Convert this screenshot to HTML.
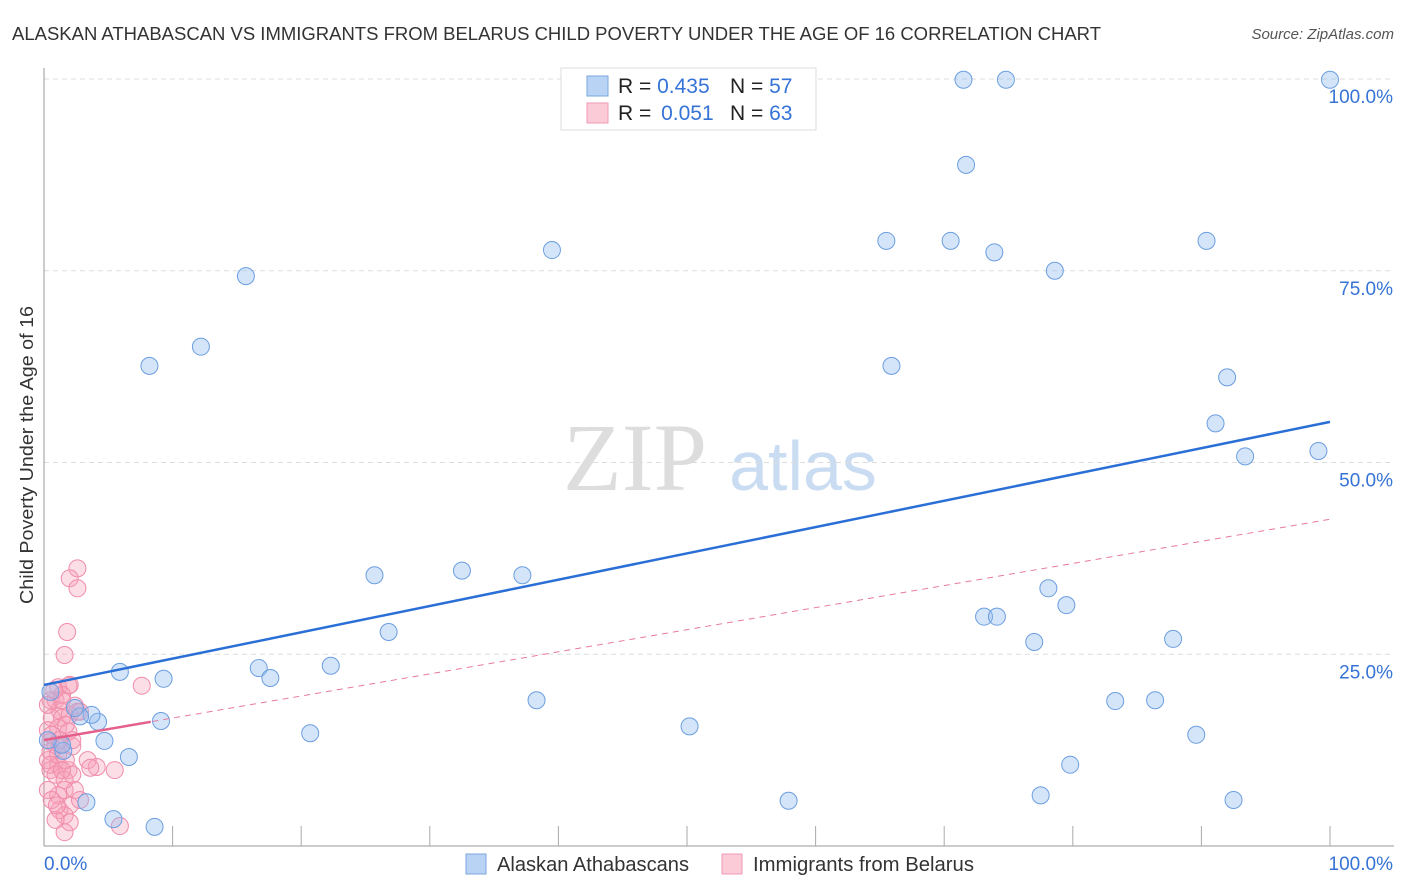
<!DOCTYPE html>
<html><head><meta charset="utf-8"><style>
body{margin:0;background:#fff;font-family:"Liberation Sans",sans-serif;}
</style></head><body>
<svg id="chart" width="1406" height="892" xmlns="http://www.w3.org/2000/svg" style="display:block">
<text x="12" y="40" font-size="18" fill="#333" textLength="1089" lengthAdjust="spacingAndGlyphs">ALASKAN ATHABASCAN VS IMMIGRANTS FROM BELARUS CHILD POVERTY UNDER THE AGE OF 16 CORRELATION CHART</text>
<text x="1394" y="39" font-size="15" fill="#555" text-anchor="end" font-style="italic">Source: ZipAtlas.com</text>
<text transform="translate(33,455) rotate(-90)" font-size="18" fill="#333" text-anchor="middle" textLength="298" lengthAdjust="spacingAndGlyphs">Child Poverty Under the Age of 16</text>
<g>
<text x="635" y="490" font-size="96" fill="#ddd" font-family="Liberation Serif" text-anchor="middle">ZIP</text>
<text x="803" y="490" font-size="70" fill="#c9dcf2" text-anchor="middle">atlas</text>
</g>
<g id="grid"></g><g id="axes"></g><g id="pts"></g><g id="lines"></g>
<g>
<rect x="561" y="68" width="255" height="62" fill="#fff" stroke="#ddd"/>
<rect x="587" y="76" width="21" height="20" fill="#b9d3f4" stroke="#7aa7e0"/>
<rect x="587" y="103" width="21" height="20" fill="#fccbd8" stroke="#ef9ab4"/>
<text x="618" y="93" font-size="21" fill="#222">R = <tspan fill="#3673d6">0.435</tspan></text>
<text x="730" y="93" font-size="21" fill="#222">N = <tspan fill="#3673d6">57</tspan></text>
<text x="618" y="120" font-size="21" fill="#222">R = <tspan fill="#3673d6" dx="4">0.051</tspan></text>
<text x="730" y="120" font-size="21" fill="#222">N = <tspan fill="#3673d6">63</tspan></text>
</g>
<g>
<rect x="466" y="854" width="20" height="20" fill="#b9d3f4" stroke="#7aa7e0"/>
<text x="497" y="871" font-size="20" fill="#333" textLength="192" lengthAdjust="spacingAndGlyphs">Alaskan Athabascans</text>
<rect x="722" y="854" width="20" height="20" fill="#fccbd8" stroke="#ef9ab4"/>
<text x="753" y="871" font-size="20" fill="#333" textLength="221" lengthAdjust="spacingAndGlyphs">Immigrants from Belarus</text>
</g>
</svg>
<script>
const blueX=[71.5,74.8,100,71.7,65.5,70.5,73.9,90.4,78.6,39.5,15.7,12.2,8.2,65.9,92.0,91.1,93.4,99.1,25.7,32.5,37.2,78.1,79.5,73.1,74.1,26.8,77.0,87.8,5.9,16.7,22.3,9.3,17.6,38.3,83.3,86.4,50.2,20.7,89.6,9.1,4.2,3.7,2.8,2.4,4.7,1.5,1.4,6.6,79.8,77.5,57.9,92.5,3.3,5.4,8.6,0.5,0.3];
const blueY=[99.9,99.9,99.9,88.8,78.9,78.9,77.4,78.9,75.0,77.7,74.3,65.1,62.6,62.6,61.1,55.1,50.8,51.5,35.3,35.9,35.3,33.6,31.4,29.9,29.9,27.9,26.6,27.0,22.7,23.2,23.5,21.8,21.9,19.0,18.9,19.0,15.6,14.7,14.5,16.3,16.2,17.1,16.9,18.0,13.7,12.4,13.2,11.6,10.6,6.6,5.9,6.0,5.7,3.5,2.5,20.1,13.8];
const pinkX=[2.6,2.0,2.6,1.8,1.6,7.6,1.1,1.9,2.0,0.5,0.9,1.2,0.6,1.4,2.0,0.3,1.1,1.9,0.5,1.2,0.9,2.2,0.3,1.1,0.5,1.9,3.4,5.5,4.1,3.6,1.6,2.4,1.1,2.0,2.8,1.2,1.6,2.0,5.9,1.6,0.5,0.6,0.3,1.4,2.4,1.4,0.9,1.6,0.3,2.2,1.1,1.7,2.2,0.6,0.9,1.2,1.7,2.6,0.5,0.8,1.4,2.8,1.0];
const pinkY=[36.2,34.9,33.6,27.9,24.9,20.9,20.7,20.9,21.0,19.0,19.0,17.7,16.7,16.7,17.1,15.1,15.4,14.9,13.6,13.2,13.2,13.0,11.2,10.6,9.9,9.9,11.2,9.9,10.3,10.2,7.3,7.3,6.6,5.3,6.0,4.7,4.0,3.1,2.6,1.8,12.3,14.5,18.4,19.7,18.3,19.0,9.3,8.6,7.3,13.8,11.9,11.2,9.3,6.0,3.4,13.8,15.8,17.5,10.6,20.3,9.9,17.5,5.3];
const xTicks=[0,10,20,30,40,50,60,70,80,90,100];
const yTicks=[25,50,75,100];
const yTickLabels=["25.0%","50.0%","75.0%","100.0%"];
const blueFit=[21.0,55.3];
const pinkFit=[13.8,42.6];
const pinkSolidEnd=8.3;
const NS="http://www.w3.org/2000/svg";
const X=v=>44+v*12.86, Y=v=>846-v*7.67;
function mk(tag,attrs,parent){const e=document.createElementNS(NS,tag);for(const k in attrs)e.setAttribute(k,attrs[k]);document.getElementById(parent).appendChild(e);return e;}
yTicks.forEach((t,i)=>{
 const g=mk('line',{x1:44,x2:1394,y1:Y(t),y2:Y(t),stroke:'#ddd','stroke-dasharray':'5,4'},'grid');
 
 
 const tx=mk('text',{x:1393,y:Y(t)+24,'font-size':19,fill:'#3673d6','text-anchor':'end'},'grid');
 tx.textContent=yTickLabels[i];
 
 
});
const ax=mk('line',{x1:44,x2:1394,y1:846,y2:846,stroke:'#999'},'axes');


const ay=mk('line',{x1:44,x2:44,y1:68,y2:846,stroke:'#999'},'axes');


xTicks.forEach(t=>{if(t===0)return;const l=mk('line',{x1:X(t),x2:X(t),y1:826,y2:846,stroke:'#aaa'},'axes');
 
 });
let t0=mk('text',{x:44,y:870,'font-size':19,fill:'#3673d6'},'axes');t0.textContent='0.0%';


let t1=mk('text',{x:1393,y:870,'font-size':19,fill:'#3673d6','text-anchor':'end'},'axes');t1.textContent='100.0%';


pinkX.forEach((v,i)=>{const c=mk('circle',{cx:X(v),cy:Y(pinkY[i]),r:8.5,fill:'rgba(246,160,185,0.35)',stroke:'#f08caa','stroke-width':1},'pts');
 
 });
blueX.forEach((v,i)=>{const c=mk('circle',{cx:X(v),cy:Y(blueY[i]),r:8.5,fill:'rgba(150,190,240,0.4)',stroke:'#6b9ee0','stroke-width':1},'pts');
 
 });
const bl=mk('line',{x1:X(0),y1:Y(blueFit[0]),x2:X(100),y2:Y(blueFit[1]),stroke:'#2a6fd6','stroke-width':2.5},'lines');


const pd=mk('line',{x1:X(0),y1:Y(pinkFit[0]),x2:X(100),y2:Y(pinkFit[1]),stroke:'#e77a9c','stroke-width':1,'stroke-dasharray':'6,5'},'lines');


const ps=mk('line',{x1:X(0),y1:Y(pinkFit[0]),x2:X(pinkSolidEnd),y2:Y(pinkFit[0]+(pinkFit[1]-pinkFit[0])*pinkSolidEnd/100),stroke:'#e45f8a','stroke-width':2.5},'lines');


</script>
</body></html>
